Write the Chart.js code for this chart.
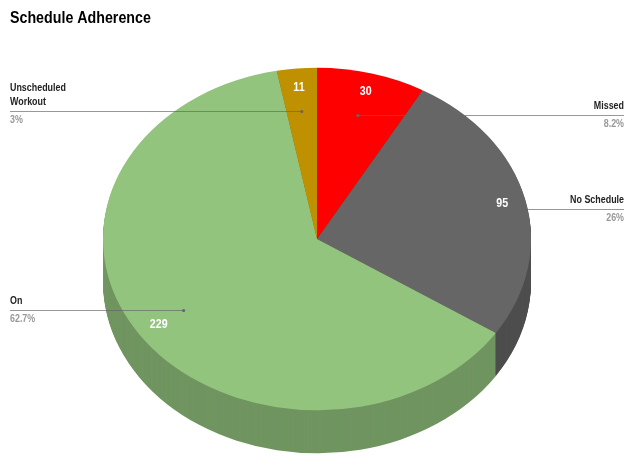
<!DOCTYPE html>
<html>
<head>
<meta charset="utf-8">
<title>Schedule Adherence</title>
<script src="https://cdn.jsdelivr.net/npm/chart.js@4"></script>
<style>
  html, body { margin: 0; padding: 0; background: #fff; }
  canvas { display: block; }
</style>
</head>
<body>
<canvas id="canvas" width="640" height="473"></canvas>
<script>
var categories = ["Missed", "No Schedule", "On", "Unscheduled Workout"];
var values = [30, 95, 229, 11];
var percentLabels = ["8.2%", "26%", "62.7%", "3%"];
var nameLines = [["Missed"], ["No Schedule"], ["On"], ["Unscheduled", "Workout"]];
var topColors = ["#ff0000", "#666666", "#93c47d", "#bf9000"];
var sideColors = ["#b20000", "#4c4c4c", "#6f945f", "#8a6800"];

var squash = 0.8;   // pie is tilted, so a circle becomes an ellipse
var depth = 43;     // height of the side wall in px
var textSqueeze = 0.89; // the reference text is a bit narrower than the font
var font = '"Liberation Sans", Arial, sans-serif';

function squashAround(ctx, arc) {
    ctx.translate(arc.x, arc.y);
    ctx.scale(1, squash);
    ctx.translate(-arc.x, -arc.y);
}

// point on a slice's middle angle, at a fraction of the radius, after the tilt
function slicePoint(arc, fraction) {
    var mid = (arc.startAngle + arc.endAngle) / 2;
    return {
        x: arc.x + Math.cos(mid) * arc.outerRadius * fraction,
        y: arc.y + Math.sin(mid) * arc.outerRadius * fraction * squash
    };
}

function narrowText(ctx, text, x, y) {
    ctx.save();
    ctx.translate(x, y);
    ctx.scale(textSqueeze, 1);
    ctx.fillText(text, 0, 0);
    ctx.restore();
}

var tiltPlugin = {
    id: 'tilt',
    beforeDatasetDraw: function (chart, args) {
        chart.ctx.save();
        squashAround(chart.ctx, args.meta.data[0]);
    },
    afterDatasetDraw: function (chart, args) {
        var ctx = chart.ctx;
        var arcs = args.meta.data;
        ctx.restore();
        // side wall goes behind the top, destination-over leaves solid px alone
        // so the stacked layers don't leave stripes
        ctx.save();
        ctx.globalCompositeOperation = 'destination-over';
        for (var d = 1; d <= depth; d++) {
            arcs.forEach(function (arc, i) {
                var saved = arc.options;
                arc.options = Object.assign({}, saved, { backgroundColor: sideColors[i], borderColor: sideColors[i] });
                ctx.save();
                ctx.translate(0, d);
                squashAround(ctx, arc);
                arc.draw(ctx);
                ctx.restore();
                arc.options = saved;
            });
        }
        ctx.restore();
    }
};

var labelPlugin = {
    id: 'sliceLabels',
    afterDatasetsDraw: function (chart) {
        var ctx = chart.ctx;
        var arcs = chart.getDatasetMeta(0).data;
        ctx.save();
        ctx.textBaseline = 'middle';
        arcs.forEach(function (arc, i) {
            var anchor = slicePoint(arc, 0.75);
            var lineY = Math.round(anchor.y) + 0.5;
            var onRight = anchor.x > arc.x && i < 2;
            var textX = onRight ? 624 : 10;

            // leader line and dot, same grey as the No Schedule slice
            ctx.strokeStyle = 'rgba(102,102,102,0.67)';
            ctx.lineWidth = 1;
            ctx.beginPath();
            ctx.moveTo(anchor.x, lineY);
            ctx.lineTo(textX, lineY);
            ctx.stroke();
            ctx.fillStyle = '#666666';
            ctx.beginPath();
            ctx.arc(anchor.x, lineY, 1.6, 0, Math.PI * 2);
            ctx.fill();

            // name above the line, percent below
            ctx.textAlign = onRight ? 'right' : 'left';
            ctx.font = 'bold 10px ' + font;
            ctx.fillStyle = '#222222';
            var lines = nameLines[i];
            lines.forEach(function (line, n) {
                narrowText(ctx, line, textX, lineY - 9 - (lines.length - 1 - n) * 14);
            });
            ctx.fillStyle = '#999999';
            narrowText(ctx, percentLabels[i], textX, lineY + 9);

            // value on the slice
            var p = slicePoint(arc, 0.89);
            ctx.textAlign = 'center';
            ctx.font = 'bold 12px ' + font;
            ctx.fillStyle = '#ffffff';
            narrowText(ctx, String(values[i]), p.x, p.y + 0.5);
        });
        ctx.restore();
    }
};

var config = {
    type: 'pie',
    data: {
        labels: categories,
        datasets: [{
            data: values,
            backgroundColor: topColors,
            borderWidth: 0,
            clip: false
        }]
    },
    options: {
        responsive: false,
        animation: false,
        layout: { padding: { left: 103, right: 109, top: 25, bottom: 20 } },
        plugins: {
            legend: { display: false },
            tooltip: { enabled: false },
            title: {
                display: false
            }
        }
    },
    plugins: [tiltPlugin, labelPlugin, {
        id: 'chartTitle',
        afterDraw: function (chart) {
            var ctx = chart.ctx;
            ctx.save();
            ctx.font = 'bold 16px ' + font;
            ctx.fillStyle = '#000000';
            ctx.textAlign = 'left';
            ctx.textBaseline = 'alphabetic';
            narrowText(ctx, 'Schedule Adherence', 10, 23);
            ctx.restore();
        }
    }]
};

new Chart(document.getElementById('canvas').getContext('2d'), config);
</script>
</body>
</html>
